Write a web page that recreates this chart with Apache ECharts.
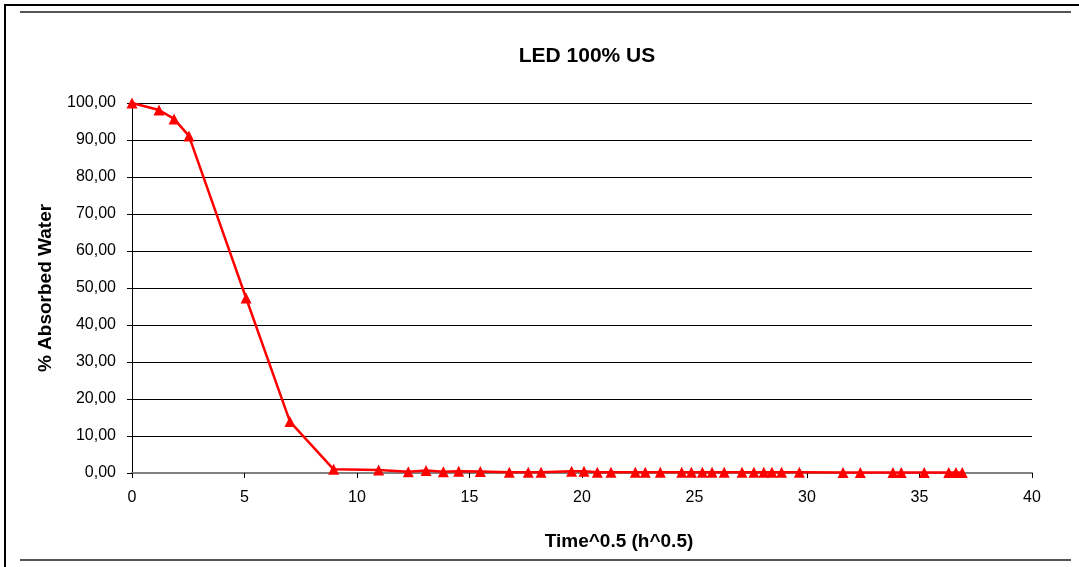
<!DOCTYPE html>
<html>
<head>
<meta charset="utf-8">
<script src="https://cdn.jsdelivr.net/npm/echarts@6/dist/echarts.min.js"></script>
<style>html,body{margin:0;padding:0;background:#fff}#c{width:1079px;height:567px}</style>
</head>
<body>
<div id="c"></div>
<script>
const title = 'LED 100% US';
const xName = 'Time^0.5 (h^0.5)';
const yName = '% Absorbed Water';
const timeSqrt = [0, 1.2, 1.87, 2.53, 5.07, 7.02, 8.96, 10.96, 12.28, 13.07, 13.84, 14.52, 15.48, 16.77, 17.61, 18.18, 19.54, 20.09, 20.68, 21.29, 22.37, 22.81, 23.48, 24.43, 24.86, 25.35, 25.78, 26.32, 27.11, 27.64, 28.08, 28.44, 28.87, 29.66, 31.6, 32.37, 33.82, 34.19, 35.21, 36.3, 36.62, 36.9];
const absorbed = [100, 98.1, 95.7, 91.1, 47.3, 13.9, 1.0, 0.8, 0.35, 0.7, 0.35, 0.45, 0.4, 0.2, 0.2, 0.2, 0.45, 0.5, 0.2, 0.2, 0.2, 0.2, 0.2, 0.2, 0.2, 0.2, 0.2, 0.2, 0.2, 0.2, 0.2, 0.2, 0.2, 0.2, 0.15, 0.15, 0.15, 0.15, 0.15, 0.15, 0.15, 0.15];

const chart = echarts.init(document.getElementById('c'));
chart.setOption({
  animation: false,
  backgroundColor: '#fff',
  title: {
    text: title, left: 582, top: 41, textAlign: 'center',
    textStyle: {fontFamily: 'Liberation Sans, Arial', fontWeight: 'bold', fontSize: 21, color: '#000'}
  },
  grid: {left: 132, right: 47, top: 103, bottom: 94},
  xAxis: {
    type: 'value', min: 0, max: 40, interval: 5,
    name: xName, nameLocation: 'middle', nameGap: 59,
    nameTextStyle: {fontFamily: 'Liberation Sans, Arial', fontWeight: 'bold', fontSize: 19, color: '#000', padding: [0, 0, 0, 74]},
    axisLine: {lineStyle: {color: '#808080', width: 2}},
    axisTick: {show: true, length: 5, lineStyle: {color: '#000'}},
    axisLabel: {fontFamily: 'Liberation Sans, Arial', fontSize: 16, color: '#000', margin: 17},
    splitLine: {show: false}
  },
  yAxis: {
    type: 'value', min: 0, max: 100, interval: 10,
    name: yName, nameLocation: 'middle', nameGap: 77, nameRotate: 90,
    nameTextStyle: {fontFamily: 'Liberation Sans, Arial', fontWeight: 'bold', fontSize: 19, color: '#000'},
    axisLine: {show: true, lineStyle: {color: '#000', width: 1}},
    axisTick: {show: true, length: 5, lineStyle: {color: '#000'}},
    axisLabel: {fontFamily: 'Liberation Sans, Arial', fontSize: 16, color: '#000', margin: 16,
      formatter: v => v.toFixed(2).replace('.', ',')},
    splitLine: {show: true, lineStyle: {color: '#000', width: 1}}
  },
  series: [{
    type: 'line',
    data: timeSqrt.map((x, i) => [x, absorbed[i]]),
    symbol: 'triangle', symbolSize: 11,
    lineStyle: {color: '#ff0000', width: 2.5},
    itemStyle: {color: '#ff0000'}
  }],
  graphic: [
    {type: 'line', shape: {x1: 5, y1: 5, x2: 1079, y2: 5}, style: {stroke: '#000', lineWidth: 2}},
    {type: 'line', shape: {x1: 5, y1: 4, x2: 5, y2: 567}, style: {stroke: '#000', lineWidth: 2}},
    {type: 'line', shape: {x1: 20, y1: 12, x2: 1071, y2: 12}, style: {stroke: '#555', lineWidth: 2}},
    {type: 'line', shape: {x1: 20, y1: 560, x2: 1071, y2: 560}, style: {stroke: '#555', lineWidth: 2}}
  ]
});
</script>
</body>
</html>
